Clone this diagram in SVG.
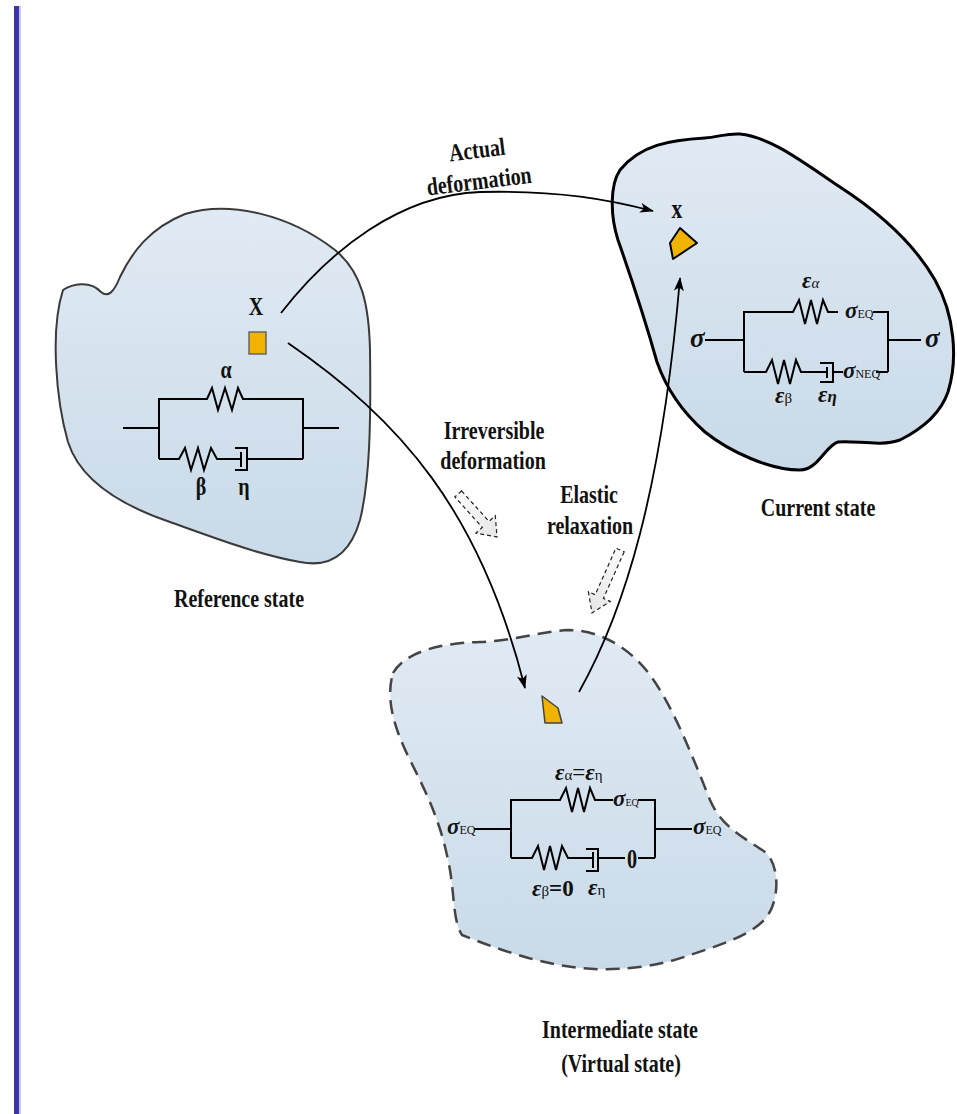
<svg xmlns="http://www.w3.org/2000/svg" width="957" height="1114" viewBox="0 0 957 1114">
  <style>
    .blob { stroke-linejoin: round; }
    .wire { fill: none; stroke: #000; stroke-width: 2; stroke-linejoin: miter; }
    .flow { fill: none; stroke: #000; stroke-width: 1.8; }
    .hollow { fill: url(#hollowFill); stroke: #222; stroke-width: 1.2; stroke-dasharray: 4 3; }
    .lbl { font-family: "Liberation Serif", "Times New Roman", serif; font-weight: bold; font-size: 25px; fill: #111; text-anchor: middle; }
    .sym { font-family: "Liberation Serif", "Times New Roman", serif; font-weight: bold; font-style: italic; font-size: 23px; fill: #111; }
    .sub { font-family: "Liberation Serif", "Times New Roman", serif; font-style: normal; font-weight: normal; font-size: 12px; }
    .gsub { font-family: "Liberation Serif", "Times New Roman", serif; font-style: normal; font-weight: normal; font-size: 15px; }
  </style>
  <defs>
    <linearGradient id="blobFill" x1="0" y1="0" x2="0" y2="1">
      <stop offset="0" stop-color="#e0eaf4"/>
      <stop offset="1" stop-color="#c9dae8"/>
    </linearGradient>
    <linearGradient id="hollowFill" x1="0" y1="0" x2="1" y2="0">
      <stop offset="0" stop-color="#fafafa"/>
      <stop offset="1" stop-color="#e6e6e6"/>
    </linearGradient>
    <marker id="ah" viewBox="0 0 14 10" refX="13" refY="5" markerWidth="14" markerHeight="10" markerUnits="userSpaceOnUse" orient="auto">
      <path d="M0,0 L14,5 L0,10 L3.5,5 Z" fill="#000"/>
    </marker>
  </defs>

  <rect width="957" height="1114" fill="#fff"/>
  <!-- page margin rule -->
  <rect x="19" y="6" width="2" height="1108" fill="#c9c9e4"/>
  <rect x="14" y="6" width="5" height="1108" fill="#3a35a8"/>

  <!-- reference configuration -->
  <g id="reference-state">
    <path class="blob" d="M63,290 C72,284 90,280 101,292 C108,298 114,292 120,277 C132,252 150,228 185,214 C230,200 290,215 335,250 C362,272 369,305 370,350 C371,420 370,480 360,520 C350,555 330,568 300,562 C260,555 220,540 170,522 C120,505 80,480 68,442 C56,400 50,330 63,290 Z" fill="url(#blobFill)" stroke="#3a3a3a" stroke-width="2"/>
    <text class="lbl" transform="translate(256,315) scale(0.8,1)">X</text>
    <rect x="249" y="332" width="17" height="22" fill="#f0b400" stroke="#666" stroke-width="1.5"/>
    <!-- alpha branch -->
    <path class="wire" d="M123,428 H159 M159,459 V399 H207 L212,388 L218,410 L225,388 L232,410 L238,388 L243,399 H303 V459 M303,428 H339"/>
    <!-- beta + eta branch -->
    <path class="wire" d="M159,459 H179 L185,448 L191,470 L198,448 L204,470 L211,448 L217,459 H241 M241,452 V467 M235,448 H247 V470 H235 M247,459 H303"/>
    <text class="lbl" transform="translate(226,378) scale(0.8,1)">α</text>
    <text class="lbl" transform="translate(201,495) scale(0.8,1)">β</text>
    <text class="lbl" transform="translate(244,495) scale(0.8,1)">η</text>
    <text class="lbl" transform="translate(239,607) scale(0.8,1)">Reference state</text>
  </g>

  <!-- current configuration -->
  <g id="current-state">
    <path class="blob" d="M620,170 C640,145 670,140 705,138 C718,137 728,133 740,134 C770,137 800,160 840,187 C880,213 915,245 935,280 C955,315 958,360 948,392 C940,415 920,430 900,440 C880,447 855,440 838,442 C825,446 818,470 800,470 C770,470 730,452 705,432 C680,410 665,385 657,362 C648,330 632,280 618,240 C610,215 610,185 620,170 Z" fill="url(#blobFill)" stroke="#000" stroke-width="3"/>
    <text class="lbl" style="font-size:27px" transform="translate(677,218) scale(0.8,1)">x</text>
    <path d="M680,228 L697,243 L673,259 L670,243 Z" fill="#f0b400" stroke="#000" stroke-width="2" stroke-linejoin="round"/>
    <path class="wire" d="M705,340 H744 M744,372 V312 H793 L799,300 L805,324 L811,300 L817,324 L823,300 L828,312 H838 M873,312 H888 V372 M888,340 H921"/>
    <path class="wire" d="M744,372 H766 L772,360 L778,384 L784,360 L790,384 L796,360 L801,372 H827 M827,367 V378 M820,363 H833 V382 H820 M833,372 H843 M876,372 H888"/>
    <text class="sym" style="font-size:27px" x="690" y="347">σ</text>
    <text class="sym" style="font-size:27px" x="925" y="347">σ</text>
    <text class="sym" x="845" y="318">σ<tspan class="sub">EQ</tspan></text>
    <text class="sym" x="843" y="378">σ<tspan class="sub">NEQ</tspan></text>
    <text class="sym" x="802" y="288">ε<tspan class="gsub" style="font-style:italic">α</tspan></text>
    <text class="sym" x="775" y="403">ε<tspan class="gsub">β</tspan></text>
    <text class="sym" x="818" y="402">ε<tspan style="font-size:17px">η</tspan></text>
    <text class="lbl" transform="translate(818,516) scale(0.8,1)">Current state</text>
  </g>

  <!-- intermediate (virtual) configuration -->
  <g id="intermediate-state">
    <path class="blob" d="M393,673 C405,652 440,643 480,642 C510,641 540,632 568,630 C600,630 630,648 650,675 C672,705 690,750 710,800 C722,828 745,838 765,852 C780,865 780,900 766,918 C750,936 720,945 690,955 C660,966 620,972 580,968 C540,964 500,950 462,935 C452,920 455,890 448,860 C440,820 425,790 410,760 C395,730 385,700 393,673 Z" fill="url(#blobFill)" stroke="#444" stroke-width="2.5" stroke-dasharray="14 8"/>
    <path d="M542,696 L558,708 L562,723 L545,723 Z" fill="#f0b400" stroke="#444" stroke-width="1.5" stroke-linejoin="round"/>
    <path class="wire" d="M474,829 H511 M511,858 V800 H560 L566,788 L572,812 L578,788 L584,812 L590,788 L595,800 H613 M638,800 H655 V858 M655,829 H692"/>
    <path class="wire" d="M511,858 H532 L538,846 L544,870 L550,846 L556,870 L562,846 L568,858 H593 M593,852 V868 M586,849 H598 V871 H586 M598,858 H625 M638,858 H655"/>
    <text class="sym" x="447" y="834">σ<tspan class="sub">EQ</tspan></text>
    <text class="sym" x="613" y="806">σ<tspan class="sub" style="font-size:10px">EQ</tspan></text>
    <text class="sym" x="693" y="834">σ<tspan class="sub">EQ</tspan></text>
    <text class="lbl" style="font-size:27px" transform="translate(632,868) scale(0.75,1)">0</text>
    <text class="sym" x="555" y="780">ε<tspan class="gsub">α</tspan><tspan style="font-style:normal;font-weight:normal">=</tspan>ε<tspan class="gsub">η</tspan></text>
    <text class="sym" x="532" y="896">ε<tspan class="gsub">β</tspan><tspan style="font-style:normal">=0</tspan></text>
    <text class="sym" x="588" y="895">ε<tspan class="gsub">η</tspan></text>
    <text class="lbl" transform="translate(620,1038) scale(0.8,1)">Intermediate state</text>
    <text class="lbl" transform="translate(621,1072) scale(0.8,1)">(Virtual state)</text>
  </g>

  <!-- deformation paths -->
  <g id="connectors">
    <path class="flow" d="M281,313 C330,250 400,195 480,192 C560,190 610,200 653,211" marker-end="url(#ah)"/>
    <path class="flow" d="M288,343 C400,420 480,510 525,688" marker-end="url(#ah)"/>
    <path class="flow" d="M579,692 C625,610 662,490 680,278" marker-end="url(#ah)"/>
    <path class="hollow" d="M-58,-4.5 L-17,-4.5 L-17,-13 L0,0 L-17,13 L-17,4.5 L-58,4.5 Z" transform="translate(497,537) rotate(48)"/>
    <path class="hollow" d="M-69,-4.5 L-18,-4.5 L-18,-12 L0,0 L-18,12 L-18,4.5 L-69,4.5 Z" transform="translate(592,613) rotate(114)"/>
    <text class="lbl" transform="translate(478,158) rotate(-7) scale(0.8,1)">Actual</text>
    <text class="lbl" transform="translate(480,189) rotate(-7) scale(0.8,1)">deformation</text>
    <text class="lbl" transform="translate(494,439) scale(0.8,1)">Irreversible</text>
    <text class="lbl" transform="translate(493,469) scale(0.8,1)">deformation</text>
    <text class="lbl" transform="translate(589,503) scale(0.8,1)">Elastic</text>
    <text class="lbl" transform="translate(590,534) scale(0.8,1)">relaxation</text>
  </g>
</svg>
